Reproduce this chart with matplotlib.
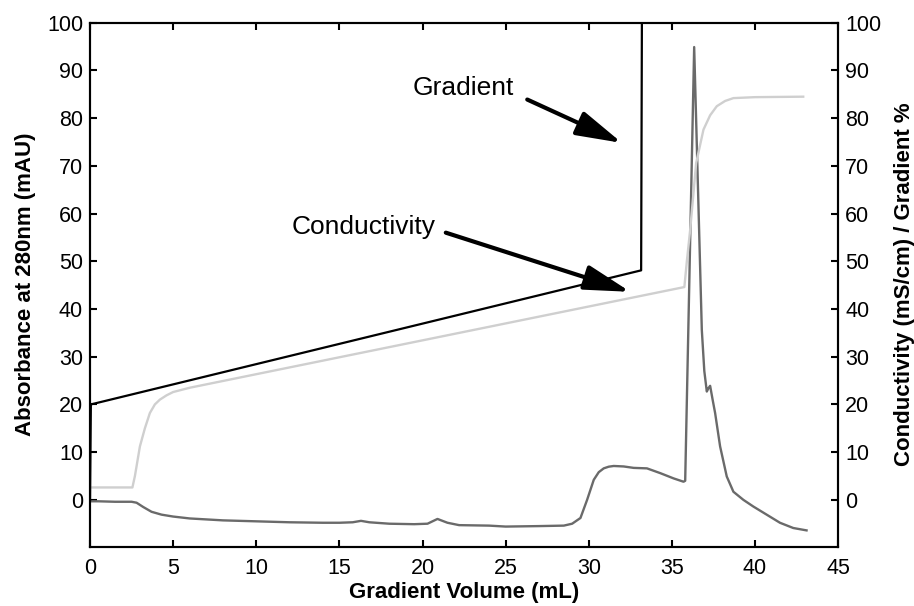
import numpy as np
import matplotlib
matplotlib.use('Agg')
import matplotlib.pyplot as plt

# anion exchange chromatogram: absorbance, conductivity and gradient traces

plt.rcParams['font.family'] = ['Liberation Sans', 'DejaVu Sans']

# absorbance at 280nm (mAU)
abs_x = [0, 0.5, 1.5, 2.5, 2.8, 3.2, 3.7, 4.3, 5, 6, 8, 10, 12, 14, 15, 15.8, 16.3,
         16.8, 18, 19.5, 20.3, 20.9, 21.5, 22.2, 24, 25, 27, 28.5, 29.0, 29.5, 29.9,
         30.3, 30.6, 30.9, 31.2, 31.5, 32.1, 32.7, 33.5, 34.3, 35.1, 35.7, 35.8, 36.34,
         36.8, 36.95, 37.1, 37.2, 37.3, 37.45, 37.6, 37.9, 38.3, 38.7, 39.3, 39.9, 40.7,
         41.5, 42.3, 43.1]
abs_y = [-0.3, -0.3, -0.4, -0.4, -0.6, -1.5, -2.5, -3.1, -3.5, -3.9, -4.3, -4.5, -4.7,
         -4.8, -4.8, -4.7, -4.4, -4.7, -5.0, -5.1, -5.0, -4.0, -4.8, -5.3, -5.4, -5.6,
         -5.5, -5.4, -5.0, -3.8, 0.0, 4.2, 5.8, 6.6, 6.95, 7.1, 7.0, 6.7, 6.6, 5.6, 4.5,
         3.8, 4.0, 94.9, 35.6, 27.0, 22.7, 23.4, 23.9, 21.0, 18.2, 11.2, 4.9, 1.7, 0.0,
         -1.4, -3.1, -4.8, -5.9, -6.4]

# conductivity (mS/cm)
cond_x = [0, 2.55, 2.7, 3.0, 3.3, 3.6, 3.9, 4.2, 4.6, 5.0, 6.0, 35.75, 35.9, 36.1,
          36.46, 36.9, 37.3, 37.7, 38.2, 38.7, 40, 42.9]
cond_y = [2.6, 2.6, 5.0, 11.2, 15.0, 18.2, 20.0, 21.0, 21.9, 22.6, 23.5, 44.6, 50.0,
          56.6, 70.6, 77.6, 80.6, 82.5, 83.6, 84.2, 84.4, 84.5]

# gradient %
grad_x = [0, 0.05, 33.15, 33.2]
grad_y = [0, 20, 48.1, 105]

fig = plt.figure(figsize=(9.14, 6.06), dpi=100)
ax = fig.add_subplot(111)
fig.subplots_adjust(left=0.0985, right=0.917, bottom=0.098, top=0.9625)

ax.plot(abs_x, abs_y, color='#6a6a6a', lw=1.7, zorder=2)
ax.plot(cond_x, cond_y, color='#cfcfcf', lw=1.7, zorder=3)
ax.plot(grad_x, grad_y, color='black', lw=1.6, zorder=4)

ax.set_xlim(0, 45)
ax.set_ylim(-9.8, 100)
ax.set_xticks(np.arange(0, 46, 5))
ax.set_yticks(np.arange(0, 101, 10))

ax2 = ax.twinx()
ax2.set_ylim(-9.8, 100)
ax2.set_yticks(np.arange(0, 101, 10))

for a in (ax, ax2):
    for s in a.spines.values():
        s.set_linewidth(1.5)
ax.tick_params(direction='in', length=5, width=1.5, labelsize=15.5, pad=5,
               top=True)
ax.tick_params(axis='x', pad=8)
ax2.tick_params(direction='in', length=5, width=1.5, labelsize=15.5, pad=5)

ax.set_xlabel('Gradient Volume (mL)', fontsize=16, fontweight='bold', labelpad=2)
ax.set_ylabel('Absorbance at 280nm (mAU)', fontsize=16, fontweight='bold', labelpad=8)
ax2.set_ylabel('Conductivity (mS/cm) / Gradient %', fontsize=16, fontweight='bold',
               labelpad=9)

# callouts
arrow_style = dict(arrowstyle='-|>,head_length=1.4,head_width=0.38',
                   lw=3, color='black', mutation_scale=20, shrinkA=0, shrinkB=0)
ax.text(19.4, 86.4, 'Gradient', fontsize=19, ha='left', va='center')
ax.annotate('', xy=(32.0, 74.8), xytext=(26.3, 83.9), arrowprops=arrow_style)
ax.text(12.1, 57.2, 'Conductivity', fontsize=19, ha='left', va='center')
ax.annotate('', xy=(32.5, 43.6), xytext=(21.4, 56.0), arrowprops=arrow_style)

fig.savefig('out.png', dpi=100)
